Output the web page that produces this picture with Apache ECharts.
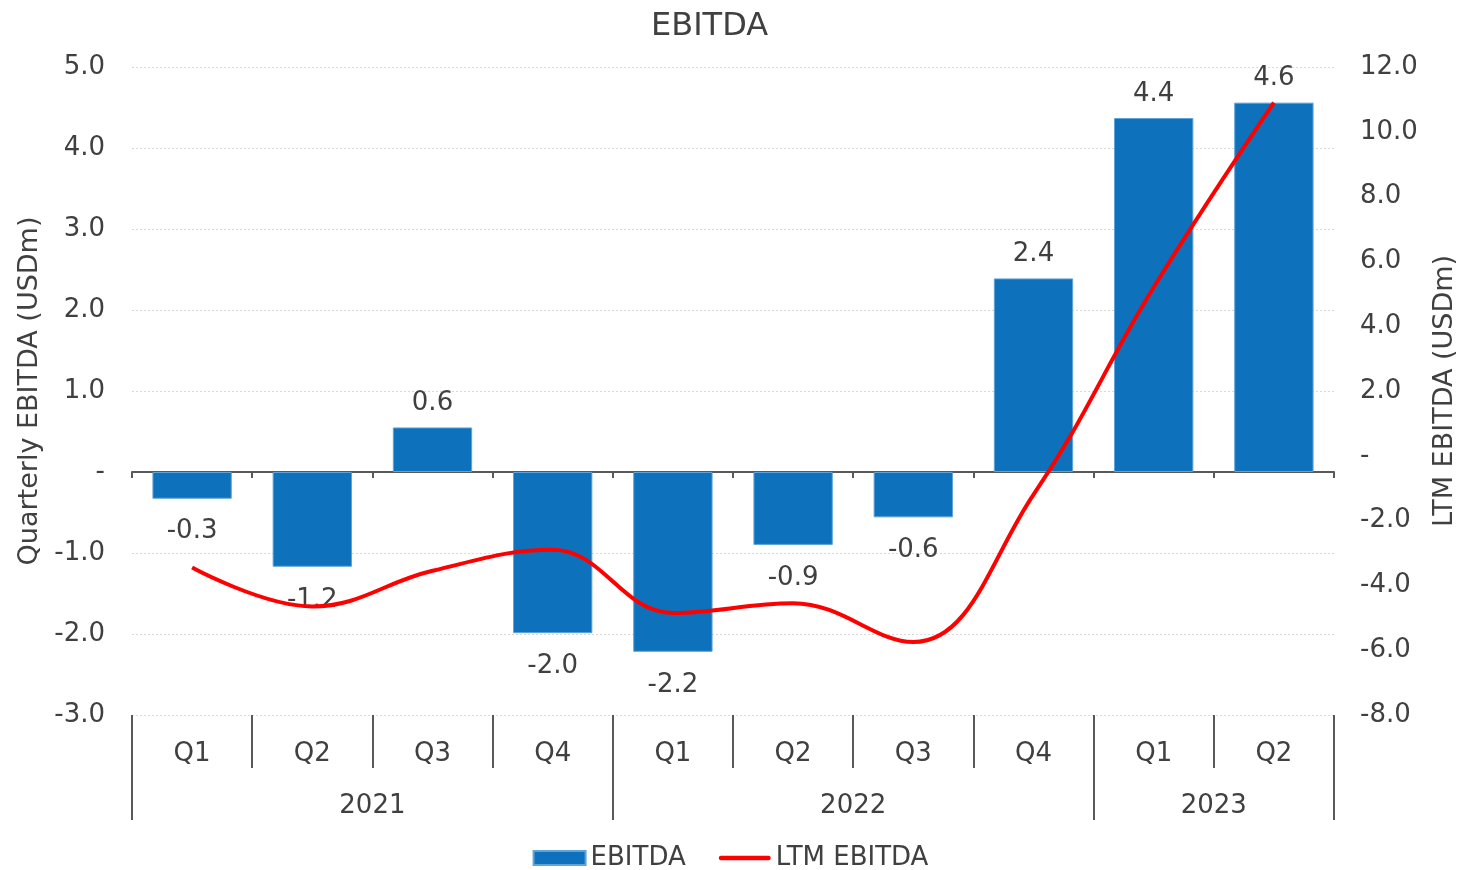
<!DOCTYPE html>
<html>
<head>
<meta charset="utf-8">
<script src="https://cdn.jsdelivr.net/npm/echarts@6/dist/echarts.min.js"></script>
<style>html,body{margin:0;padding:0;background:#fff}#c{width:1461px;height:870px}</style>
</head>
<body>
<div id="c"></div>
<script>
const quarters = ['Q1','Q2','Q3','Q4','Q1','Q2','Q3','Q4','Q1','Q2'];
const years = ['2021','2022','2023'];
const yearSpans = [4, 4, 2];
const ebitda = [-0.33, -1.17, 0.55, -1.99, -2.22, -0.90, -0.56, 2.39, 4.37, 4.56];
const ltmEbitda = [-3.45, -4.65, -3.55, -2.9, -4.85, -4.55, -5.75, -1.2, 5.2, 10.9];
const leftTicks = {min: -3, max: 5, interval: 1};
const rightTicks = {min: -8, max: 12, interval: 2};

const FONT = 'DejaVu Sans';
const TXT = '#404040';

// year group boundaries and centers (in category units)
const bounds = [0];
yearSpans.forEach(s => bounds.push(bounds[bounds.length - 1] + s));
const centers = yearSpans.map((s, i) => bounds[i] + s / 2);

const fmt = v => (Math.abs(v) < 1e-9 ? '-' : v.toFixed(1));

const chart = echarts.init(document.getElementById('c'), null, {renderer: 'canvas'});
chart.setOption({
  animation: false,
  backgroundColor: '#fff',
  textStyle: {fontFamily: FONT, color: TXT},
  title: {
    text: 'EBITDA', left: 646, top: 6,
    textStyle: {fontFamily: FONT, fontSize: 32, fontWeight: 'normal', color: TXT}
  },
  grid: {left: 132, right: 127, top: 67, bottom: 155, outerBoundsMode: 'none', containLabel: false},
  legend: {
    bottom: -6, left: 'center', itemGap: 33, itemWidth: 52, itemHeight: 14,
    textStyle: {fontFamily: FONT, fontSize: 26, color: TXT},
    data: [
      {name: 'EBITDA', icon: 'rect'},
      {name: 'LTM EBITDA', icon: 'path://M2,0 L55,0 A2.5,2.5 0 0 1 55,5 L2,5 A2.5,2.5 0 0 1 2,0 Z'}
    ]
  },
  xAxis: [
    {
      type: 'category', data: quarters, position: 'bottom',
      axisLine: {onZero: true, onZeroAxisIndex: 0, lineStyle: {color: '#595959', width: 2}},
      axisTick: {show: true, length: 6, lineStyle: {color: '#595959', width: 2}},
      axisLabel: {show: false}, splitLine: {show: false}
    },
    {
      type: 'category', data: quarters, position: 'bottom',
      axisLine: {show: false, onZero: false},
      axisTick: {show: true, length: 53, lineStyle: {color: '#595959', width: 2}},
      axisLabel: {show: true, margin: 26, fontSize: 26, fontFamily: FONT, color: TXT},
      splitLine: {show: false}
    },
    {
      type: 'value', min: 0, max: bounds[bounds.length - 1], position: 'bottom',
      axisLine: {show: false, onZero: false},
      axisTick: {show: true, length: 105, customValues: bounds, lineStyle: {color: '#595959', width: 2}},
      axisLabel: {
        show: true, margin: 78, fontSize: 26, fontFamily: FONT, color: TXT,
        customValues: centers,
        formatter: v => { const i = centers.findIndex(c => Math.abs(c - v) < 1e-6); return i >= 0 ? years[i] : ''; }
      },
      splitLine: {show: false}
    }
  ],
  yAxis: [
    {
      type: 'value', min: leftTicks.min, max: leftTicks.max, interval: leftTicks.interval,
      name: 'Quarterly EBITDA (USDm)', nameLocation: 'middle', nameGap: 89, nameRotate: 90,
      nameTextStyle: {fontFamily: FONT, fontSize: 27, color: TXT},
      axisLine: {show: false}, axisTick: {show: false},
      axisLabel: {fontSize: 26, fontFamily: FONT, color: TXT, margin: 27, formatter: fmt},
      splitLine: {show: true, lineStyle: {color: '#d9d9d9', type: [2, 2], width: 1}}
    },
    {
      type: 'value', min: rightTicks.min, max: rightTicks.max, interval: rightTicks.interval,
      name: 'LTM EBITDA (USDm)', nameLocation: 'middle', nameGap: 97, nameRotate: 90,
      nameTextStyle: {fontFamily: FONT, fontSize: 27, color: TXT},
      axisLine: {show: false}, axisTick: {show: false},
      axisLabel: {fontSize: 26, fontFamily: FONT, color: TXT, margin: 26, formatter: fmt},
      splitLine: {show: false}
    }
  ],
  series: [
    {
      name: 'EBITDA', type: 'bar', xAxisIndex: 0, yAxisIndex: 0,
      barCategoryGap: '34%',
      itemStyle: {color: '#0E71BC', borderColor: '#5EA3DA', borderWidth: 1},
      data: ebitda.map(v => ({
        value: v,
        label: {show: true, position: v >= 0 ? 'top' : 'bottom', distance: v >= 0 ? 11 : 20}
      })),
      label: {
        show: true, fontSize: 26, fontFamily: FONT, color: TXT,
        formatter: p => p.value.toFixed(1)
      },
      z: 2
    },
    {
      name: 'LTM EBITDA', type: 'line', xAxisIndex: 0, yAxisIndex: 1,
      data: ltmEbitda, smooth: 0.4, showSymbol: false, symbol: 'none',
      lineStyle: {color: '#FF0000', width: 4},
      itemStyle: {color: '#FF0000'},
      z: 3
    }
  ]
});
</script>
</body>
</html>
